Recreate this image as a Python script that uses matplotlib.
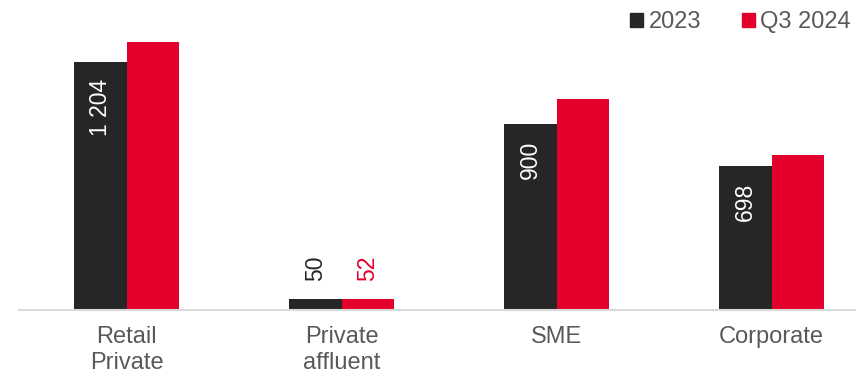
import matplotlib.pyplot as plt
import numpy as np
from matplotlib.patches import Patch

plt.rcParams['font.family'] = ['Liberation Sans', 'DejaVu Sans']

categories = ['Retail\nPrivate', 'Private\naffluent', 'SME', 'Corporate']
series_names = ['2023', 'Q3 2024']
values_2023 = [1204, 50, 900, 698]
values_2024 = [1300, 52, 1023, 751]
labels_2023 = ['1 204', '50', '900', '698']
labels_2024 = ['', '52', '', '']

dark = '#262626'
red = '#E3002C'
grey = '#595959'

fig = plt.figure(figsize=(8.56, 3.75), dpi=100)
# axes spans -0.5..3.5 in x, extends a bit past the right edge like the original
ax = fig.add_axes([19 / 856, 65.5 / 375, 860 / 856, 288 / 375])

x = np.arange(len(categories))
w = 0.244
b1 = ax.bar(x - w / 2, values_2023, w, color=dark)
b2 = ax.bar(x + w / 2, values_2024, w, color=red)

ax.set_xlim(-0.5, 3.5)
ax.set_ylim(0, 1400)
ax.set_yticks([])
ax.set_xticks(x)
ax.set_xticklabels(categories, fontsize=17, color=grey, linespacing=1.22)
ax.tick_params(axis='x', length=0, pad=12)
for s in ['top', 'right', 'left']:
    ax.spines[s].set_visible(False)
ax.spines['bottom'].set_color('#D9D9D9')
ax.spines['bottom'].set_linewidth(1.5)

# labels: inside end for big bars, outside end for small ones
for rect, lab in zip(b1, labels_2023):
    h = rect.get_height()
    cx = rect.get_x() + rect.get_width() / 2
    if h > 200:
        ax.annotate(lab, xy=(cx, h), xytext=(0, -12), textcoords='offset points',
                    rotation=90, ha='center', va='top', color='white', fontsize=16.5)
    else:
        ax.annotate(lab, xy=(cx, h), xytext=(0, 13), textcoords='offset points',
                    rotation=90, ha='center', va='bottom', color=dark, fontsize=16.5)
for rect, lab in zip(b2, labels_2024):
    if lab:
        h = rect.get_height()
        cx = rect.get_x() + rect.get_width() / 2
        ax.annotate(lab, xy=(cx, h), xytext=(0, 13), textcoords='offset points',
                    rotation=90, ha='center', va='bottom', color=red, fontsize=16.5)

handles = [Patch(color=dark), Patch(color=red)]
fig.legend(handles, series_names, loc='upper right', bbox_to_anchor=(1.019, 1.027),
           ncol=2, frameon=False, fontsize=17, labelcolor=grey,
           handlelength=0.55, handleheight=0.55, handletextpad=0.22,
           columnspacing=1.75)

fig.savefig('out.png', dpi=100)
